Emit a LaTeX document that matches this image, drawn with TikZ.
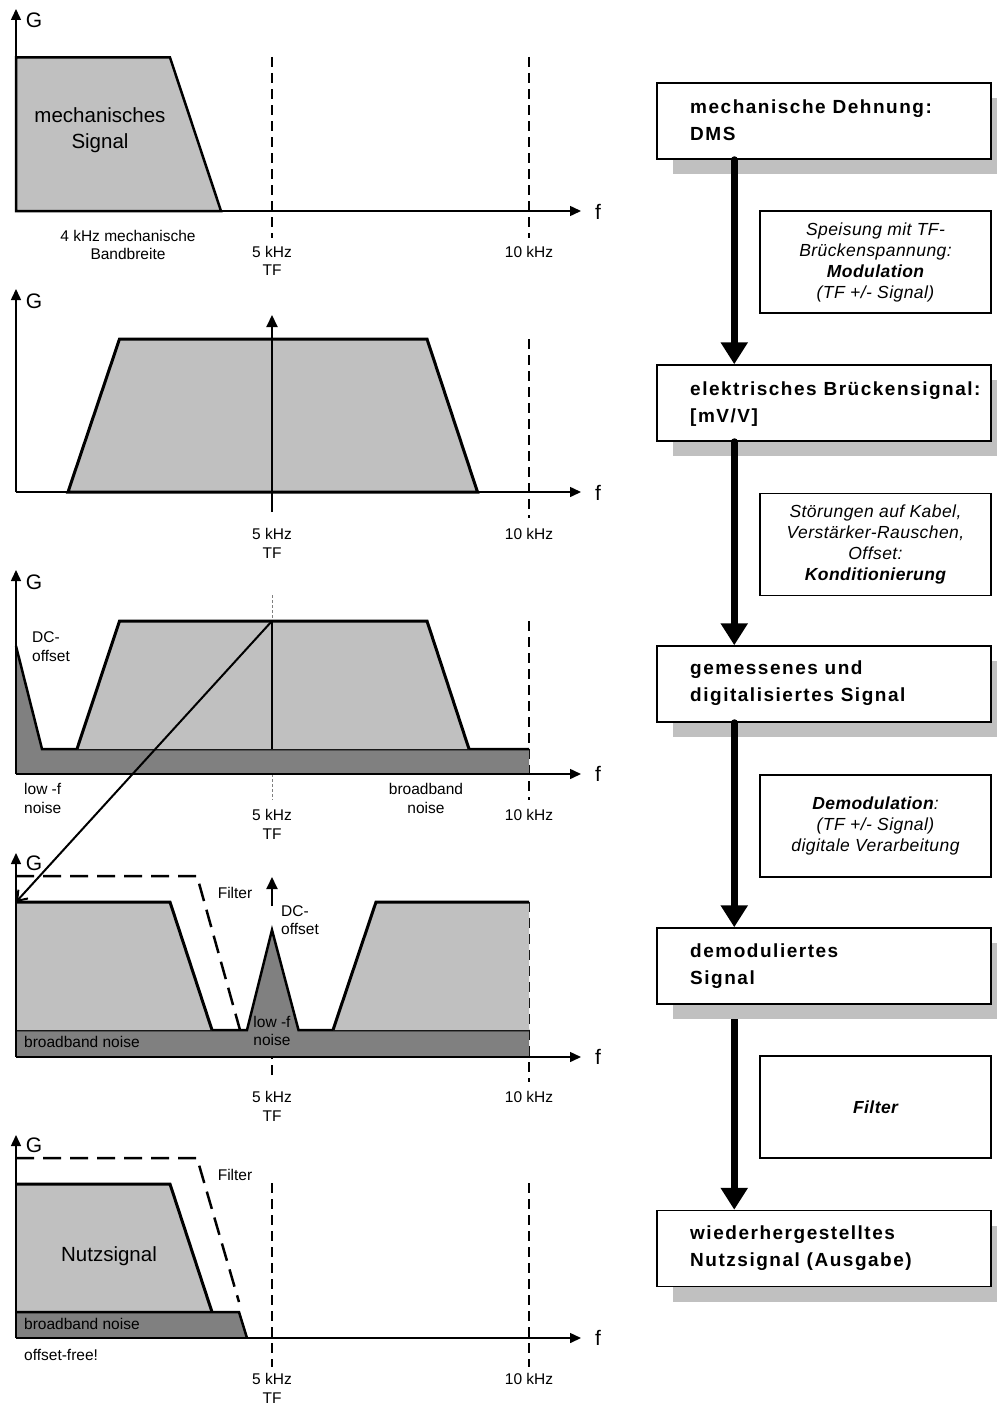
\documentclass[tikz,border=0pt]{standalone}
\usepackage{fontspec}
\setmainfont{Liberation Sans}
\usetikzlibrary{arrows.meta,calc,shadows}
\pgfdeclarelayer{background}
\pgfsetlayers{background,main}

\definecolor{sigcol}{RGB}{192,192,192}
\definecolor{noisecol}{RGB}{128,128,128}
\definecolor{shadecol}{RGB}{192,192,192}

\begin{document}
\begin{tikzpicture}[x=1pt,y=-1pt,
  axis/.style={line width=1.5pt,-{Triangle[length=11pt,width=10pt]}},
  vecarrow/.style={line width=2pt,-{Triangle[length=12pt,width=11pt]}},
  tfline/.style={line width=1.5pt,dash pattern=on 10pt off 6pt},
  thinmark/.style={line width=1pt,draw=gray,dash pattern=on 3pt off 2pt},
  filterline/.style={line width=2.5pt,dash pattern=on 18pt off 9pt},
  sigfill/.style={fill=sigcol},
  noisefill/.style={fill=noisecol},
  edge3/.style={line width=3pt,line join=miter},
  edge2/.style={line width=2.5pt,line join=miter},
  lbl/.style={inner sep=0pt,align=center,font=\fontsize{15.5}{18.5}\selectfont},
  lbll/.style={lbl,align=left,anchor=west},
  biglbl/.style={inner sep=0pt,align=center,font=\fontsize{20.5}{26}\selectfont},
  axlbl/.style={inner sep=0pt,font=\fontsize{21}{24}\selectfont},
  stagebox/.style={draw,line width=1.5pt,fill=white,minimum width=334pt,minimum height=76pt,inner sep=0pt,
    drop shadow={shadow xshift=16pt,shadow yshift=-15pt,opacity=1,fill=shadecol}},
  stagetext/.style={inner sep=0pt,anchor=west,align=left,
    font=\fontsize{19}{27}\selectfont\bfseries\addfontfeatures{LetterSpace=8}},
  notebox/.style={draw,line width=1.2pt,minimum width=231pt,minimum height=102pt,inner sep=0pt,align=center,
    font=\fontsize{17.5}{21}\selectfont\itshape\addfontfeatures{LetterSpace=2.5}},
  flow/.style={line width=7pt,line cap=round,-{Triangle[length=22pt,width=26pt]}}
]
\useasboundingbox (0,0) rectangle (996,1405);

% ---------- Spectrum 1: mechanical signal ----------
\draw[tfline] (272,57) -- (272,238);
\draw[tfline] (529,57) -- (529,238);
\draw[sigfill,edge2] (16,211) -- (16,57.5) -- (170,57.5) -- (221,211) -- cycle;
\draw[axis] (16,211) -- (16,9);
\draw[axis] (16,211) -- (581,211);
\node[axlbl] (g1) at (34,20) {G};
\node[axlbl] (f1) at (598,212) {f};
\node[biglbl] (s1) at (100,130) {mechanisches\\Signal};
\node[lbl] (bw1) at (128,245) {4 kHz mechanische\\Bandbreite};
\node[lbl] (tf1) at (272,261) {5 kHz\\TF};
\node[lbl] (k1) at (529,252) {10 kHz};

% ---------- Spectrum 2: modulated signal ----------
\draw[tfline] (529,339) -- (529,518);
\draw[sigfill,edge3] (68,492) -- (119.5,339) -- (427,339) -- (477.5,492) -- cycle;
\draw[vecarrow] (272,512) -- (272,315);
\draw[axis] (16,492) -- (16,289);
\draw[axis] (16,492) -- (581,492);
\node[axlbl] (g2) at (34,301) {G};
\node[axlbl] (f2) at (598,493) {f};
\node[lbl] (tf2) at (272,543.5) {5 kHz\\TF};
\node[lbl] (k2) at (529,534) {10 kHz};

% ---------- Spectrum 3: measured signal with noise ----------
\draw[tfline] (529,621) -- (529,800);
\draw[thinmark] (272,595) -- (272,621);
\draw[thinmark] (272,774) -- (272,800);
\fill[noisefill] (16,774) -- (16,646) -- (42,749) -- (529,749) -- (529,774) -- cycle;
\draw[edge2] (16,646) -- (42,749) -- (529,749);
\fill[sigfill] (77,749) -- (119.5,621) -- (427,621) -- (469,749) -- cycle;
\draw[edge3] (77,749) -- (119.5,621) -- (427,621) -- (469,749);
\coordinate (peak3) at (272,621);
\draw[line width=2pt] (peak3) -- (272,749);
\draw[axis] (16,774) -- (16,570);
\draw[axis] (16,774) -- (581,774);
\node[axlbl] (g3) at (34,582) {G};
\node[axlbl] (f3) at (598,774) {f};
\node[lbll] (dc3) at (32,646.5) {DC-\\offset};
\node[lbll] (lf3) at (24,798.5) {low -f\\noise};
\node[lbl] (bb3) at (426,798.5) {broadband\\noise};
\node[lbl] (tf3) at (272,824.5) {5 kHz\\TF};
\node[lbl] (k3) at (529,815) {10 kHz};

% ---------- Spectrum 4: demodulated signal ----------
\draw[tfline] (529,902) -- (529,1082);
\draw[tfline] (272,1075) -- (272,930);
\draw[vecarrow] (272,906) -- (272,877);
\fill[noisefill] (16,1030) -- (247,1030) -- (272,930) -- (298.5,1030) -- (529,1030) -- (529,1057) -- (16,1057) -- cycle;
\draw[edge2] (16,1030) -- (247,1030) -- (272,930) -- (298.5,1030) -- (529,1030);
\fill[sigfill] (16,1030) -- (16,902) -- (170,902) -- (212,1030) -- cycle;
\draw[edge3] (16,902) -- (170,902) -- (212,1030);
\fill[sigfill] (333,1030) -- (376,902) -- (529,902) -- (529,1030) -- cycle;
\draw[edge3] (333,1030) -- (376,902) -- (529,902);
\draw[filterline] (16,876) -- (197,876) -- (240,1030);
\draw[axis] (16,1057) -- (16,853);
\draw[axis] (16,1057) -- (581,1057);
\coordinate (corner4) at (16,902);
\draw[line width=2pt,-{Straight Barb[length=9pt,width=13pt]}] (peak3) -- (corner4);
\node[axlbl] (g4) at (34,863) {G};
\node[axlbl] (f4) at (598,1057) {f};
\node[lbl] (fi4) at (235,893) {Filter};
\node[lbll] (dc4) at (281,920) {DC-\\offset};
\node[lbl] (lf4) at (272,1031) {low -f\\noise};
\node[lbll] (bb4) at (24,1042) {broadband noise};
\node[lbl] (tf4) at (272,1106.5) {5 kHz\\TF};
\node[lbl] (k4) at (529,1097) {10 kHz};

% ---------- Spectrum 5: filtered useful signal ----------
\draw[tfline] (272,1183) -- (272,1367);
\draw[tfline] (529,1183) -- (529,1367);
\fill[sigfill] (16,1312) -- (16,1184) -- (170,1184) -- (212,1312) -- cycle;
\draw[edge3] (16,1184) -- (170,1184) -- (212,1312);
\fill[noisefill] (16,1338) -- (16,1312) -- (239,1312) -- (247,1338) -- cycle;
\draw[edge2] (16,1312) -- (239,1312) -- (247,1338);
\draw[filterline] (16,1158) -- (197,1158) -- (239,1302);
\draw[axis] (16,1338) -- (16,1135);
\draw[axis] (16,1338) -- (581,1338);
\node[axlbl] (g5) at (34,1145) {G};
\node[axlbl] (f5) at (598,1338) {f};
\node[lbl] (fi5) at (235,1175) {Filter};
\node[biglbl] (ns5) at (109,1256) {Nutzsignal};
\node[lbll] (bb5) at (24,1324) {broadband noise};
\node[lbll] (of5) at (24,1355) {offset-free!};
\node[lbl] (tf5) at (272,1388.5) {5 kHz\\TF};
\node[lbl] (k5) at (529,1379) {10 kHz};

% ---------- Processing chain ----------
\node[stagebox] (b1) at (824,121) {};
\node[stagebox] (b2) at (824,403) {};
\node[stagebox] (b3) at (824,684) {};
\node[stagebox] (b4) at (824,966) {};
\node[stagebox] (b5) at (824,1248.5) {};
\node[stagetext] (t1) at (690,120) {mechanische Dehnung:\\DMS};
\node[stagetext] (t2) at (690,404.5) {elektrisches Brückensignal:\\{}[mV/V]};
\node[stagetext] (t3) at (690,683.5) {gemessenes und\\digitalisiertes Signal};
\node[stagetext] (t4) at (690,966) {demoduliertes\\Signal};
\node[stagetext] (t5) at (690,1248.5) {wiederhergestelltes\\Nutzsignal (Ausgabe)};

\node[notebox] (n1) at (875.5,262) {Speisung mit TF-\\Brückenspannung:\\\textbf{Modulation}\\(TF +/- Signal)};
\node[notebox] (n2) at (875.5,544.5) {Störungen auf Kabel,\\Verstärker-Rauschen,\\Offset:\\\textbf{Konditionierung}};
\node[notebox] (n3) at (875.5,826) {\textbf{Demodulation}:\\(TF +/- Signal)\\digitale Verarbeitung};
\node[notebox] (n4) at (875.5,1107) {\textbf{Filter}};

\draw[flow] ($(b1.south west)+(78,0)$) -- ($(b2.north west)+(78,0)$);
\draw[flow] ($(b2.south west)+(78,0)$) -- ($(b3.north west)+(78,0)$);
\draw[flow] ($(b3.south west)+(78,0)$) -- ($(b4.north west)+(78,0)$);
\begin{pgfonlayer}{background}
\draw[flow] ($(b4.south west)+(78,0)$) -- ($(b5.north west)+(78,0)$);
\end{pgfonlayer}
\end{tikzpicture}
\end{document}
